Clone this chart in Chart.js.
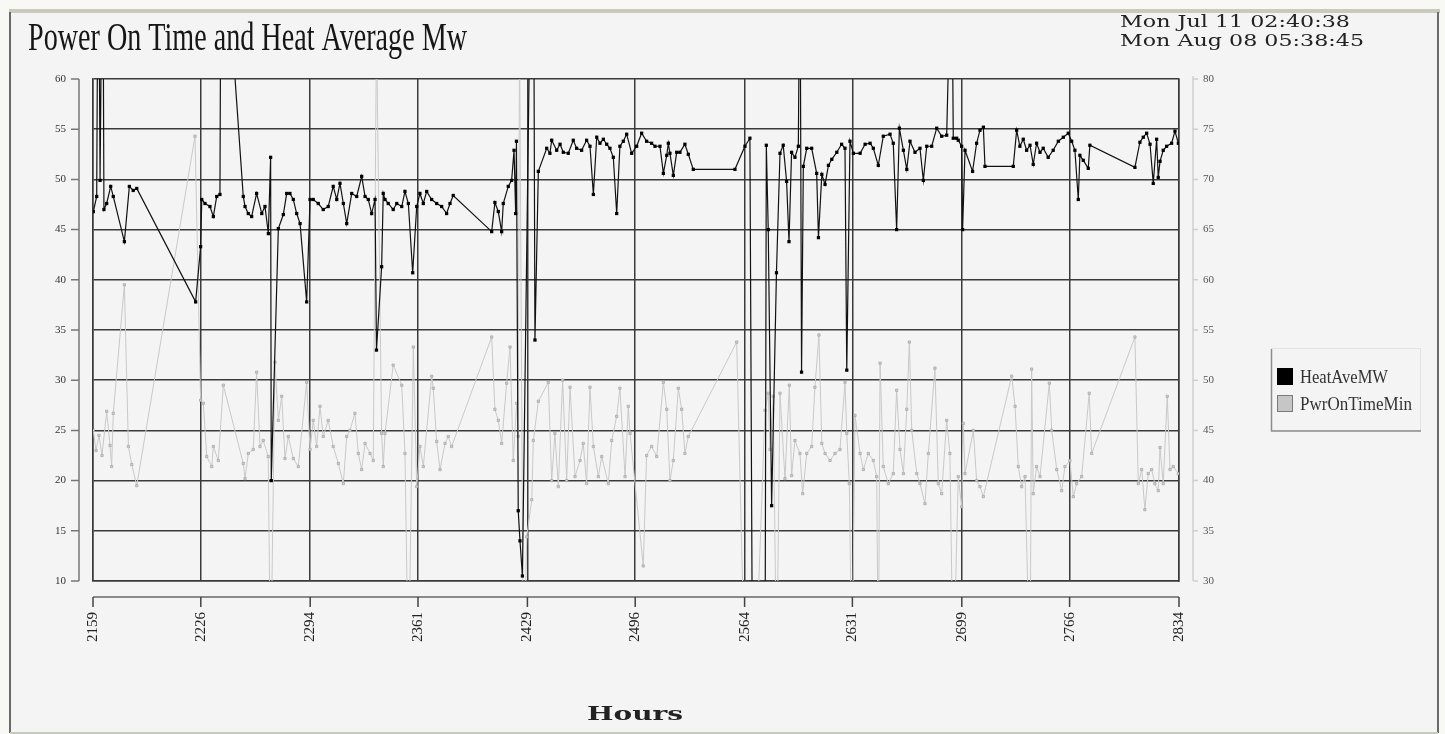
<!DOCTYPE html>
<html>
<head>
<meta charset="utf-8">
<title>Power On Time and Heat Average Mw</title>
<script src="https://cdn.jsdelivr.net/npm/chart.js@4.4.1/dist/chart.umd.min.js"></script>
<style>
  html, body { margin: 0; padding: 0; background: #f4f4f4; }
  canvas { display: block; }
</style>
</head>
<body>
<canvas id="chart" width="1445" height="734"></canvas>
<script>
// hours on the x axis
const hourTicks = [2159, 2226, 2294, 2361, 2429, 2496, 2564, 2631, 2699, 2766, 2834];
const leftTicks = [10, 15, 20, 25, 30, 35, 40, 45, 50, 55, 60];
const rightTicks = [30, 35, 40, 45, 50, 55, 60, 65, 70, 75, 80];

// [hour, MW] (values past the axis are spikes that run off the plot)
const heatAveMW = [
  [2159.2,46.8],[2161.3,48.3],[2162.3,80],[2163.4,49.9],[2165.0,80],[2165.8,47.0],[2167.5,47.6],[2170.0,49.3],[2171.6,48.3],
  [2178.5,43.8],[2181.6,49.3],[2184.0,48.9],[2186.2,49.1],[2222.8,37.8],[2225.9,43.3],[2226.6,48.0],[2228.6,47.6],[2231.7,47.3],
  [2233.8,46.3],[2235.9,48.3],[2237.9,48.5],[2239.0,95],[2246.0,63],[2252.4,48.3],[2253.5,47.3],[2255.5,46.6],[2257.6,46.3],
  [2260.7,48.6],[2263.9,46.6],[2265.9,47.3],[2268.0,44.6],[2269.4,52.2],[2269.8,20.0],[2274.2,45.1],[2277.3,46.5],[2279.4,48.6],
  [2281.4,48.6],[2283.5,48.0],[2285.6,46.6],[2287.7,45.6],[2291.8,37.8],[2293.9,48.0],[2295.9,48.0],[2299.0,47.6],[2302.1,47.0],
  [2305.2,47.3],[2308.3,49.3],[2310.5,48.0],[2312.5,49.6],[2314.6,47.6],[2316.7,45.6],[2319.8,48.6],[2322.9,48.3],[2326.0,50.3],
  [2328.1,48.3],[2330.1,48.0],[2332.2,46.6],[2334.3,48.0],[2335.2,33.0],[2338.4,41.3],[2339.4,48.6],[2340.5,48.0],[2342.5,47.6],
  [2345.6,47.0],[2347.8,47.6],[2350.9,47.3],[2352.9,48.8],[2355.0,47.6],[2357.7,40.7],[2360.2,47.3],[2362.2,48.6],[2364.3,47.6],
  [2366.4,48.8],[2369.5,48.0],[2372.6,47.6],[2375.7,47.3],[2378.8,46.6],[2380.9,47.6],[2382.9,48.4],[2406.8,44.8],[2408.8,47.7],
  [2410.9,46.8],[2413.0,44.8],[2414.0,47.6],[2417.1,49.3],[2419.2,49.9],[2420.7,52.9],[2421.7,46.6],[2422.2,53.8],[2423.3,17.0],
  [2424.4,14.0],[2425.9,10.5],[2432.5,90],[2433.7,34.0],[2435.8,50.8],[2441.0,53.1],[2443.0,52.6],[2444.1,53.9],[2447.2,52.9],
  [2449.3,53.5],[2451.3,52.7],[2454.4,52.6],[2457.5,53.9],[2459.6,53.1],[2462.7,52.9],[2465.8,53.9],[2467.9,53.3],[2470.0,48.5],
  [2472.1,54.2],[2474.1,53.6],[2476.2,54.0],[2478.3,53.5],[2480.3,53.1],[2482.4,52.2],[2484.5,46.6],[2486.5,53.3],[2488.6,53.8],
  [2490.7,54.5],[2493.8,52.6],[2496.9,53.3],[2500.0,54.6],[2503.1,53.8],[2506.2,53.6],[2508.3,53.3],[2511.4,53.3],[2513.5,50.6],
  [2515.6,52.4],[2516.6,53.6],[2517.6,52.6],[2519.7,50.4],[2521.8,52.7],[2523.8,52.7],[2526.9,53.5],[2529.0,52.5],[2532.1,51.0],
  [2558.0,51.0],[2564.2,53.3],[2567.3,54.1],[2568.9,0],[2576.7,0],[2577.5,53.4],[2578.7,45.0],[2580.8,17.5],[2583.8,40.7],
  [2586.0,52.6],[2588.0,53.4],[2590.1,49.8],[2591.6,43.8],[2593.2,52.7],[2595.3,52.2],[2597.4,53.3],[2598.4,75],[2599.4,30.8],
  [2600.5,51.3],[2602.6,53.1],[2605.7,53.1],[2608.8,50.6],[2609.9,44.2],[2612.0,50.5],[2614.0,49.5],[2616.1,51.4],[2618.2,52.0],
  [2621.3,52.7],[2624.3,53.5],[2626.4,53.1],[2627.5,31.0],[2629.5,53.8],[2631.6,52.6],[2635.8,52.6],[2638.9,53.5],[2642.0,53.6],
  [2644.0,53.1],[2647.1,51.4],[2650.2,54.3],[2654.4,54.5],[2656.4,53.6],[2658.5,45.0],[2660.2,55.1],[2662.7,52.9],[2664.8,51.0],
  [2666.8,53.8],[2669.9,52.7],[2673.0,53.1],[2675.1,49.9],[2677.2,53.3],[2680.3,53.3],[2683.4,55.1],[2686.5,54.3],[2689.6,54.4],
  [2692.7,75],[2693.7,54.1],[2695.8,54.1],[2696.8,53.9],[2698.9,53.3],[2699.5,45.0],[2701.0,52.9],[2705.7,50.8],[2708.2,53.6],
  [2710.3,54.9],[2712.4,55.2],[2713.4,51.3],[2731.0,51.3],[2733.1,54.9],[2735.1,53.3],[2737.2,54.0],[2739.3,52.9],[2741.4,53.4],
  [2743.4,51.5],[2745.5,53.6],[2747.6,52.7],[2749.6,53.1],[2752.7,52.2],[2755.8,52.9],[2759.0,53.8],[2762.1,54.2],[2765.2,54.6],
  [2767.3,53.8],[2769.3,52.9],[2771.4,48.0],[2772.4,52.4],[2774.5,51.9],[2777.6,51.1],[2778.6,53.4],[2806.6,51.2],[2809.7,53.7],
  [2811.8,54.2],[2813.9,54.6],[2816.0,53.5],[2818.0,49.6],[2820.1,54.0],[2821.1,50.2],[2822.2,51.8],[2824.2,52.9],[2826.3,53.3],
  [2829.4,53.6],[2831.5,54.8],[2833.6,53.6]
];

// [hour, minutes] on the right axis
const pwrOnTimeMin = [
  [2159.2,45.0],[2160.9,43.0],[2162.7,44.5],[2164.6,42.5],[2167.5,46.9],[2169.6,43.5],[2170.6,41.4],[2171.6,46.7],[2178.5,59.5],
  [2181.0,43.4],[2183.1,41.6],[2186.2,39.5],[2222.4,74.3],[2225.9,48.0],[2227.6,47.7],[2229.7,42.4],[2232.8,41.4],[2233.8,43.4],
  [2236.9,42.0],[2240.0,49.5],[2252.4,41.7],[2253.5,40.2],[2255.5,42.7],[2258.6,43.1],[2260.7,50.8],[2262.8,43.4],[2264.8,44.0],
  [2267.9,42.4],[2269.4,20],[2272.1,51.8],[2274.2,46.0],[2276.3,48.4],[2278.3,42.2],[2280.4,44.4],[2283.5,42.2],[2286.6,41.4],
  [2291.8,49.8],[2293.9,43.1],[2295.9,46.0],[2298.0,43.4],[2300.1,47.4],[2302.1,44.4],[2305.2,46.0],[2308.3,43.4],[2311.5,41.7],
  [2314.6,39.7],[2316.7,44.4],[2318.7,45.0],[2321.8,46.7],[2323.9,42.7],[2326.0,41.1],[2328.1,43.7],[2331.2,42.7],[2333.2,42.0],
  [2335.2,85],[2338.4,44.7],[2339.4,41.4],[2340.5,44.7],[2345.6,51.5],[2350.9,49.5],[2352.9,42.7],[2355.1,20],[2358.1,53.3],
  [2360.2,39.4],[2362.2,43.4],[2364.3,41.4],[2369.5,50.4],[2370.5,49.2],[2372.6,43.9],[2374.7,41.1],[2377.8,43.7],[2379.8,44.4],
  [2381.9,43.4],[2406.8,54.3],[2408.8,47.1],[2410.9,46.0],[2413.0,43.7],[2416.1,49.7],[2418.2,53.3],[2420.2,42.0],[2422.3,47.7],
  [2423.3,44.4],[2424.1,85],[2426.5,20],[2428.6,34.4],[2431.7,38.1],[2432.7,44.0],[2435.8,47.9],[2442.0,49.8],[2444.1,40.0],
  [2446.1,44.7],[2448.2,39.4],[2450.9,50.0],[2453.4,40.0],[2455.5,49.3],[2458.6,40.4],[2461.7,42.0],[2463.7,43.7],[2465.8,39.7],
  [2467.9,49.3],[2470.0,43.4],[2473.1,40.4],[2475.2,42.4],[2479.3,39.7],[2481.4,44.0],[2484.5,46.4],[2486.5,49.2],[2489.7,40.4],
  [2491.7,47.4],[2492.8,44.7],[2501.0,31.5],[2503.1,42.5],[2506.2,43.4],[2509.4,42.4],[2513.5,49.8],[2515.6,47.1],[2517.6,40.0],
  [2519.7,42.0],[2522.8,49.2],[2524.9,47.1],[2526.9,42.7],[2529.0,44.4],[2559.1,53.8],[2564.2,20],[2571.7,25],[2576.7,47.0],
  [2578.7,48.7],[2579.8,43.1],[2581.8,48.4],[2583.9,20],[2586.0,48.7],[2589.1,40.2],[2591.8,49.5],[2593.2,40.5],[2595.3,44.0],
  [2598.4,42.7],[2600.1,38.7],[2602.6,42.7],[2605.7,43.4],[2607.7,49.3],[2610.2,54.5],[2612.0,43.7],[2614.0,42.7],[2617.1,42.0],
  [2620.2,42.7],[2623.3,43.1],[2626.4,49.8],[2627.5,44.7],[2629.1,39.7],[2630.8,20],[2632.6,46.5],[2635.8,42.7],[2637.8,41.1],
  [2640.9,42.7],[2644.0,42.0],[2646.1,40.4],[2647.1,20],[2648.2,51.7],[2650.2,41.4],[2653.3,39.7],[2656.4,40.7],[2658.5,49.0],
  [2660.6,43.1],[2662.7,40.7],[2664.8,47.1],[2666.4,53.8],[2667.9,45.0],[2671.0,40.7],[2673.0,39.7],[2676.1,37.7],[2678.2,42.7],
  [2682.3,51.2],[2684.4,39.7],[2686.5,38.7],[2689.6,46.0],[2691.6,42.7],[2693.7,20],[2696.8,40.4],[2698.9,37.4],[2699.9,45.7],
  [2701.0,40.7],[2706.2,45.0],[2708.2,40.0],[2710.3,39.4],[2712.4,38.4],[2730.0,50.4],[2732.1,47.4],[2734.1,41.4],[2736.2,39.4],
  [2738.3,40.4],[2741.4,20],[2742.4,51.1],[2743.4,38.7],[2745.5,41.4],[2747.6,40.4],[2753.4,49.7],[2754.9,45.0],[2758.0,41.1],
  [2761.1,39.0],[2763.1,41.4],[2766.2,42.0],[2768.3,38.4],[2770.4,39.7],[2773.5,40.4],[2778.2,48.7],[2779.7,42.7],[2806.6,54.3],
  [2808.7,39.7],[2810.8,41.1],[2812.8,37.1],[2814.9,40.7],[2817.0,41.1],[2819.0,39.7],[2821.1,39.0],[2822.2,43.3],[2824.2,39.7],
  [2826.7,48.4],[2828.4,41.1],[2830.4,41.4],[2833.6,40.7]
];

const GRID = '#3a3a3a';

// draws text squeezed/stretched to a given width (the original fonts are condensed)
function fitText(ctx, text, x, y, w, font, color) {
  ctx.save();
  ctx.font = font;
  ctx.fillStyle = color || '#111';
  ctx.textBaseline = 'alphabetic';
  ctx.textAlign = 'left';
  var m = ctx.measureText(text).width;
  ctx.translate(x, y);
  ctx.scale(w / m, 1);
  ctx.fillText(text, 0, 0);
  ctx.restore();
}

const frameAndExtras = {
  id: 'frameAndExtras',
  beforeDraw(chart) {
    var ctx = chart.ctx;
    ctx.save();
    ctx.fillStyle = '#f8f8f4';
    ctx.fillRect(0, 0, chart.width, chart.height);
    ctx.fillStyle = '#f4f4f4';
    ctx.fillRect(11, 13, 1427, 719);
    ctx.fillStyle = '#c9c9bc';
    ctx.fillRect(9, 9, 1431, 4);
    ctx.strokeStyle = '#6a6a6a';
    ctx.lineWidth = 2;
    ctx.beginPath();
    ctx.moveTo(10, 12); ctx.lineTo(10, 733);
    ctx.moveTo(1438, 12); ctx.lineTo(1438, 733);
    ctx.stroke();
    ctx.strokeStyle = '#c5ccbe';
    ctx.beginPath();
    ctx.moveTo(10, 733); ctx.lineTo(1438, 733);
    ctx.stroke();
    ctx.restore();
  },
  afterDraw(chart) {
    var ctx = chart.ctx;
    var x = chart.scales.x, y = chart.scales.y, y1 = chart.scales.y1;
    ctx.save();

    // detached left axis
    ctx.strokeStyle = '#777';
    ctx.lineWidth = 1.5;
    ctx.beginPath();
    ctx.moveTo(79, y.top); ctx.lineTo(79, y.bottom);
    leftTicks.forEach(function (v) {
      var py = y.getPixelForValue(v);
      ctx.moveTo(71, py); ctx.lineTo(79, py);
    });
    ctx.stroke();

    // detached right axis
    ctx.strokeStyle = '#cfcfcf';
    ctx.beginPath();
    ctx.moveTo(1193, y1.top - 3); ctx.lineTo(1193, y1.bottom);
    rightTicks.forEach(function (v) {
      var py = y1.getPixelForValue(v);
      ctx.moveTo(1193, py); ctx.lineTo(1198, py);
    });
    ctx.stroke();

    // detached bottom axis
    ctx.strokeStyle = '#8a8a8a';
    ctx.lineWidth = 2;
    ctx.beginPath();
    ctx.moveTo(x.left, 597); ctx.lineTo(x.right, 597);
    ctx.stroke();
    ctx.strokeStyle = '#444';
    ctx.lineWidth = 1.5;
    ctx.beginPath();
    hourTicks.forEach(function (v) {
      var px = x.getPixelForValue(v);
      ctx.moveTo(px, 597); ctx.lineTo(px, 607);
    });
    ctx.stroke();

    // legend
    ctx.strokeStyle = '#e2e2e2';
    ctx.lineWidth = 1;
    ctx.strokeRect(1271.5, 348.5, 149, 82);
    ctx.strokeStyle = '#8c8c8c';
    ctx.lineWidth = 1.5;
    ctx.beginPath();
    ctx.moveTo(1271.5, 349); ctx.lineTo(1271.5, 431); ctx.lineTo(1421, 431);
    ctx.stroke();
    ctx.fillStyle = '#000';
    ctx.fillRect(1277, 368, 16, 17);
    ctx.fillStyle = '#c6c6c6';
    ctx.fillRect(1277, 395, 16, 17);
    ctx.strokeStyle = '#7a7a7a';
    ctx.lineWidth = 1;
    ctx.strokeRect(1277.5, 395.5, 15, 16);
    fitText(ctx, 'HeatAveMW', 1300, 383, 88, '19px "Liberation Serif"', '#333');
    fitText(ctx, 'PwrOnTimeMin', 1300, 410, 112, '19px "Liberation Serif"', '#333');

    // titles
    fitText(ctx, 'Power On Time and Heat Average Mw', 28, 50, 439, '40px "Liberation Serif"', '#161616');
    fitText(ctx, 'Mon Jul 11 02:40:38', 1120, 27, 230, '17px "DejaVu Serif"', '#222');
    fitText(ctx, 'Mon Aug 08 05:38:45', 1120, 46, 244, '17px "DejaVu Serif"', '#222');
    fitText(ctx, 'Hours', 587, 720, 96, 'bold 19px "DejaVu Serif"', '#222');
    ctx.restore();
  }
};

new Chart(document.getElementById('chart'), {
  type: 'line',
  data: {
    datasets: [
      {
        label: 'HeatAveMW',
        data: heatAveMW.map(function (p) { return { x: p[0], y: p[1] }; }),
        yAxisID: 'y',
        borderColor: '#111',
        borderWidth: 1.2,
        pointStyle: 'rect',
        pointRadius: 2.3,
        pointBackgroundColor: '#000',
        pointBorderColor: '#000',
        pointBorderWidth: 0,
        tension: 0
      },
      {
        label: 'PwrOnTimeMin',
        data: pwrOnTimeMin.map(function (p) { return { x: p[0], y: p[1] }; }),
        yAxisID: 'y1',
        borderColor: '#c9c9c9',
        borderWidth: 1,
        pointStyle: 'rect',
        pointRadius: 1.6,
        pointBackgroundColor: '#d2d2d2',
        pointBorderColor: '#a8a8a8',
        pointBorderWidth: 0.8,
        tension: 0
      }
    ]
  },
  options: {
    responsive: false,
    animation: false,
    layout: { padding: { top: 79, left: 0, right: 0, bottom: 0 } },
    plugins: {
      legend: { display: false },
      tooltip: { enabled: false }
    },
    scales: {
      x: {
        type: 'linear',
        min: 2159,
        max: 2834,
        afterBuildTicks: function (s) { s.ticks = hourTicks.map(function (v) { return { value: v }; }); },
        afterFit: function (s) { s.height = 153; },
        grid: { color: GRID, lineWidth: 1.5, drawTicks: false },
        border: { color: GRID, width: 1.5 },
        ticks: {
          autoSkip: false,
          minRotation: 90,
          maxRotation: 90,
          padding: 31,
          color: '#222',
          font: { family: 'Liberation Serif', size: 15 },
          callback: function (v) { return String(v); }
        }
      },
      y: {
        position: 'left',
        min: 10,
        max: 60,
        afterBuildTicks: function (s) { s.ticks = leftTicks.map(function (v) { return { value: v }; }); },
        afterFit: function (s) { s.width = 93; },
        grid: { color: GRID, lineWidth: 1.5, drawTicks: false },
        border: { color: GRID, width: 1.5 },
        ticks: { padding: 27, color: '#333', font: { family: 'Liberation Serif', size: 11 } }
      },
      y1: {
        position: 'right',
        min: 30,
        max: 80,
        afterBuildTicks: function (s) { s.ticks = rightTicks.map(function (v) { return { value: v }; }); },
        afterFit: function (s) { s.width = 266; },
        grid: { display: false, drawTicks: false },
        border: { color: GRID, width: 1.5 },
        ticks: { padding: 24, color: '#555', font: { family: 'Liberation Serif', size: 11 } }
      }
    }
  },
  plugins: [frameAndExtras]
});
</script>
</body>
</html>
